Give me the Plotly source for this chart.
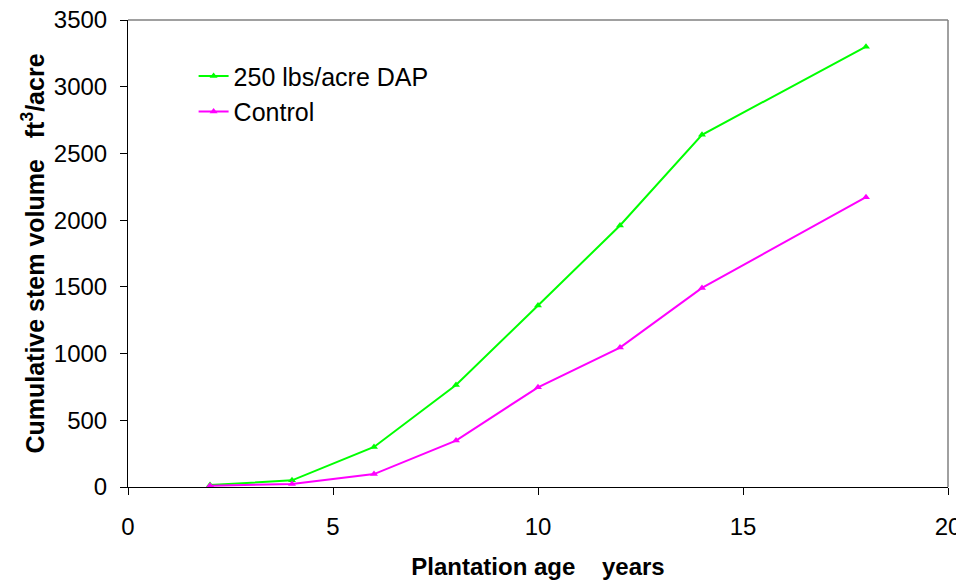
import plotly.graph_objects as go

age = [2, 4, 6, 8, 10, 12, 14, 18]
dap = [15, 50, 300, 765, 1360, 1960, 2640, 3300]
control = [10, 22, 97, 348, 747, 1045, 1492, 2172]

series_names = ["250 lbs/acre DAP", "Control"]
x_ticks = [0, 5, 10, 15, 20]
y_ticks = [0, 500, 1000, 1500, 2000, 2500, 3000, 3500]

FONT = "Liberation Sans, Arial, sans-serif"
NB = "\u00a0"

fig = go.Figure()
fig.add_trace(go.Scatter(
    x=age, y=dap, name=series_names[0], mode="lines+markers",
    line=dict(color="#00ff00", width=2),
    marker=dict(symbol="triangle-up", size=7, color="#00ff00"),
))
fig.add_trace(go.Scatter(
    x=age, y=control, name=series_names[1], mode="lines+markers",
    line=dict(color="#ff00ff", width=2),
    marker=dict(symbol="triangle-up", size=7, color="#ff00ff"),
))

# page body has an 8px default margin, so the figure is sized/offset to compensate
fig.update_layout(
    width=956, height=576,
    margin=dict(l=120, r=16, t=12, b=97),
    paper_bgcolor="white", plot_bgcolor="white",
    font=dict(family=FONT, size=25, color="black"),
    showlegend=True,
    legend=dict(
        x=0.08, y=0.929, xanchor="left", yanchor="top",
        bgcolor="rgba(0,0,0,0)", font=dict(size=25),
        tracegroupgap=0, itemwidth=30,
    ),
    xaxis=dict(
        range=[0, 20], tickvals=x_ticks, ticks="outside", ticklen=7,
        tickcolor="black", showline=True, linecolor="black", linewidth=1,
        showgrid=False, zeroline=False, tickfont=dict(size=24),
        ticklabelstandoff=11, ticklabeloverflow="allow", automargin=False,
        title=dict(text="<b>Plantation age" + NB * 4 + "years</b>", font=dict(size=24), standoff=19),
    ),
    yaxis=dict(
        range=[0, 3500], tickvals=y_ticks, ticks="outside", ticklen=7,
        tickcolor="black", showline=True, linecolor="black", linewidth=1,
        showgrid=False, zeroline=False, tickfont=dict(size=24),
        ticklabelstandoff=8, ticklabeloverflow="allow", automargin=False,
        title=dict(text="<b>Cumulative stem volume" + NB * 3 + "ft<sup>3</sup>/acre</b>", font=dict(size=25), standoff=2),
    ),
    shapes=[
        dict(type="line", xref="paper", yref="paper", x0=0, x1=1, y0=1, y1=1,
             line=dict(color="#808080", width=1.5)),
        dict(type="line", xref="paper", yref="paper", x0=1, x1=1, y0=0, y1=1,
             line=dict(color="#808080", width=1.5)),
    ],
)

fig.write_html("out.html")
